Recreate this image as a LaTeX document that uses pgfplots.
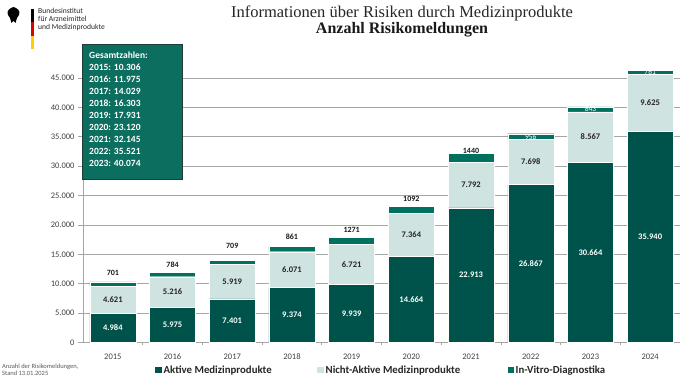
\documentclass[border=0pt]{standalone}
\usepackage{pgfplots}
\pgfplotsset{compat=1.18}
\usepackage{pgfplotstable}
\usepackage{fontspec}
\setmainfont{Carlito}
\newfontfamily\titlefont{Liberation Serif}
\definecolor{dkgreen}{HTML}{00534A}
\definecolor{ltgreen}{HTML}{CFE3E0}
\definecolor{midgreen}{HTML}{00705F}
\definecolor{boxgreen}{HTML}{0B6E5E}
\definecolor{boxborder}{HTML}{1F3D36}
\definecolor{gridgray}{HTML}{A6A6A6}
\definecolor{txtgray}{HTML}{404040}
\definecolor{flaggold}{HTML}{FFCE00}
\definecolor{flagred}{HTML}{DD0000}

\pgfplotstableread{
x year a b c
0 2015 4984 4621 701
1 2016 5975 5216 784
2 2017 7401 5919 709
3 2018 9374 6071 861
4 2019 9939 6721 1271
5 2020 14664 7364 1092
6 2021 22913 7792 1440
7 2022 26867 7698 956
8 2023 30664 8567 843
9 2024 35940 9625 761
}\data

\pgfplotstableread{
x c ly
0 701 11836
1 784 13165
2 709 16409
3 861 18003
4 1271 19121
5 1092 24480
6 1440 32655
}\invabove

\pgfplotstableread{
x a b c
7 26867 7698 956
8 30664 8567 843
9 35940 9625 761
}\invin

\begin{document}
\begin{tikzpicture}
\useasboundingbox (0,0) rectangle (681pt,379pt);

% logo
\fill[black] (8pt,364pt) .. controls (6pt,368pt) and (10pt,371pt) .. (13.5pt,372pt)
  .. controls (17pt,371pt) and (21pt,368pt) .. (19pt,364pt)
  -- (17pt,361pt) -- (15.5pt,356pt) -- (13.5pt,358pt) -- (11.5pt,356pt) -- (10pt,361pt) -- cycle;
\fill[black] (31pt,357pt) rectangle (33.5pt,370pt);
\fill[flagred] (31pt,343pt) rectangle (33.5pt,357pt);
\fill[flaggold] (31pt,330pt) rectangle (33.5pt,343pt);
\node[anchor=north west, inner sep=0pt, align=left, font=\fontsize{7.6}{8}\selectfont, text=black!85]
  at (38pt,371pt) {Bundesinstitut\\für Arzneimittel\\und Medizinprodukte};

% title
\node[font=\titlefont\fontsize{16.5}{18}\selectfont, text=black!85] at (402pt,366pt)
  {Informationen über Risiken durch Medizinprodukte};
\node[font=\titlefont\bfseries\fontsize{16}{18}\selectfont, text=black!90] at (402pt,349pt)
  {Anzahl Risikomeldungen};

\begin{axis}[
  at={(83pt,36.5pt)}, anchor=south west, scale only axis,
  width=597pt, height=293.9pt,
  xmin=-0.5, xmax=9.5, ymin=0, ymax=50000,
  ybar stacked, bar width=46pt,
  axis x line*=bottom, axis y line*=left,
  axis line style={gridgray, line width=0.8pt},
  ytick={0,5000,...,45000},
  ymajorgrids, grid style={gridgray, line width=0.8pt},
  tick align=outside,
  ytick style={gridgray, line width=0.8pt},
  major tick length=5pt,
  xtick={0,...,9},
  xticklabels={2015,2016,2017,2018,2019,2020,2021,2022,2023,2024},
  major x tick style={draw=none},
  minor xtick={0.5,1.5,...,8.5},
  minor x tick style={gridgray, line width=0.8pt},
  minor tick length=3pt,
  x tick label style={font=\fontsize{8.5}{9}\selectfont, text=txtgray, yshift=-3pt},
  y tick label style={font=\fontsize{8.5}{9}\selectfont, text=txtgray},
  /pgf/number format/1000 sep={.},
  /pgf/number format/assume math mode=true,
  scaled y ticks=false,
]
\addplot[fill=dkgreen, draw=white, line width=0.4pt] table[x=x, y=a] {\data};
\addplot[fill=ltgreen, draw=white, line width=0.4pt] table[x=x, y=b] {\data};
\addplot[fill=midgreen, draw=white, line width=0.4pt] table[x=x, y=c] {\data};
\end{axis}

\begin{axis}[
  at={(83pt,36.5pt)}, anchor=south west, scale only axis,
  width=597pt, height=293.9pt,
  xmin=-0.5, xmax=9.5, ymin=0, ymax=50000,
  hide axis, clip=false,
  /pgf/number format/1000 sep={.},
  /pgf/number format/assume math mode=true,
]
\addplot[only marks, mark=none, point meta=explicit,
  nodes near coords={\pgfmathprintnumber{\pgfplotspointmeta}},
  every node near coord/.append style={anchor=center, text=white, font=\bfseries\fontsize{8.5}{9}\selectfont}]
  table[x=x, y expr=\thisrow{a}/2, meta=a] {\data};
\addplot[only marks, mark=none, point meta=explicit,
  nodes near coords={\pgfmathprintnumber{\pgfplotspointmeta}},
  every node near coord/.append style={anchor=center, text=black!85, font=\bfseries\fontsize{8.5}{9}\selectfont}]
  table[x=x, y expr=\thisrow{a}+\thisrow{b}/2, meta=b] {\data};
\addplot[only marks, mark=none, point meta=explicit,
  nodes near coords={\pgfmathprintnumber[1000 sep={}]{\pgfplotspointmeta}},
  every node near coord/.append style={anchor=center, text=black!90, font=\bfseries\fontsize{8}{9}\selectfont}]
  table[x=x, y=ly, meta=c] {\invabove};
\addplot[only marks, mark=none, point meta=explicit,
  nodes near coords={\pgfmathprintnumber[1000 sep={}]{\pgfplotspointmeta}},
  every node near coord/.append style={anchor=center, inner sep=0pt, text=white, font=\fontsize{7.5}{7}\selectfont}]
  table[x=x, y expr=\thisrow{a}+\thisrow{b}+\thisrow{c}/2, meta=c] {\invin};
\end{axis}

% Gesamtzahlen box
\draw[fill=boxgreen, draw=boxborder, line width=0.9pt] (82pt,200pt) rectangle (182pt,335pt);
\node[anchor=north west, inner sep=0pt, align=left, text=white,
  font=\bfseries\fontsize{9.5}{12}\selectfont] at (89pt,327pt)
  {Gesamtzahlen:\\2015: 10.306\\2016: 11.975\\2017: 14.029\\2018: 16.303\\2019: 17.931\\2020: 23.120\\2021: 32.145\\2022: 35.521\\2023: 40.074};

% legend
\fill[dkgreen] (155pt,5.5pt) rectangle (162pt,12pt);
\node[anchor=mid west, inner sep=0pt, font=\bfseries\fontsize{10.8}{12}\selectfont, text=black!85] at (163.5pt,8pt) {Aktive Medizinprodukte};
\fill[ltgreen] (317pt,5.5pt) rectangle (324pt,12pt);
\node[anchor=mid west, inner sep=0pt, font=\bfseries\fontsize{10.8}{12}\selectfont, text=black!85] at (325.5pt,8pt) {Nicht-Aktive Medizinprodukte};
\fill[midgreen] (507.5pt,5.5pt) rectangle (514pt,12pt);
\node[anchor=mid west, inner sep=0pt, font=\bfseries\fontsize{10.8}{12}\selectfont, text=black!85] at (515.5pt,8pt) {In-Vitro-Diagnostika};

% footnote
\node[anchor=west, inner sep=0pt, align=left, font=\fontsize{6.5}{7.5}\selectfont, text=black!65] at (2pt,9pt)
  {Anzahl der Risikomeldungen,\\Stand 13.01.2025};
\end{tikzpicture}
\end{document}
